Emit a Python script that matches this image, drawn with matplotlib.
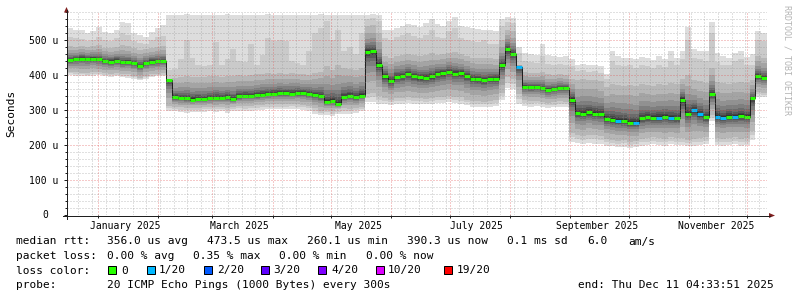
import datetime as dt
import numpy as np
import matplotlib
matplotlib.use("Agg")
import matplotlib.pyplot as plt
import matplotlib.dates as mdates
from matplotlib.patches import Rectangle, Polygon
from matplotlib.lines import Line2D
from matplotlib.transforms import Affine2D, blended_transform_factory

plt.rcParams['font.family'] = ['DejaVu Sans Mono']

# ---------------- data (microseconds, one value per 3-day step) ----------------
start = dt.datetime(2024, 12, 16, 4, 33, 51)
step_days = 3

med = [443, 446, 447, 446, 447, 445, 440, 438, 441, 436, 437, 434, 425, 434, 438, 439, 440,
       387,
       336, 334, 333, 330, 332, 331, 333, 335, 334, 337, 331, 339, 341, 340, 342, 344, 346,
       347, 348, 348, 347, 349, 348, 346, 342, 340, 322, 326, 318, 336, 340, 336, 341,
       467, 468, 430,
       396, 382, 395, 397, 403, 397, 393, 392, 396, 403, 405, 410, 404, 405, 398, 389, 388,
       385, 389, 390, 428,
       474, 460, 424,
       366, 365, 366, 362, 357, 360, 363, 362, 330,
       291, 290, 293, 289, 288, 274, 272, 270, 268, 264, 263, 276, 279, 277, 278, 280, 277, 276,
       330, 290, 300, 288, 279, 345, 281, 277, 281, 280, 283, 280, 333, 397, 392]

top = [533, 529, 529, 520, 525, 538, 522, 520, 530, 552, 548, 520, 515, 510, 524, 535, 543,
       571, 572, 572, 573, 572, 572, 571, 572, 572, 572, 573, 572, 572, 571, 572, 572, 572,
       573, 572, 572, 572, 571, 572, 572, 572, 572, 573, 572, 572, 572, 571, 572, 572, 572,
       572, 573, 572,
       530, 528, 535, 540, 545, 542, 538, 548, 560, 545, 540, 555, 565, 540, 538, 535, 532,
       530, 528, 525, 560,
       566, 563, 480,
       462, 460, 458, 490, 458, 455, 452, 455, 445,
       430, 432, 428, 430, 425, 402, 470, 455, 448, 450, 445, 452, 448, 442, 455, 445, 468, 450,
       468, 538, 475, 470, 468, 552, 462, 455, 450, 462, 470, 452, 460, 525, 520]

hi = [508, 505, 502, 498, 500, 510, 500, 498, 505, 520, 515, 498, 492, 490, 500, 508, 512,
      415, 418, 445, 500, 450, 430, 425, 428, 495, 430, 445, 475, 440, 438, 490, 430, 458,
      505, 498, 500, 496, 440, 435, 430, 470, 520, 535, 555, 500, 530, 470, 480, 460, 520,
      560, 562, 555,
      505, 500, 510, 515, 520, 512, 505, 515, 530, 510, 505, 525, 535, 505, 500, 498, 495,
      500, 490, 488, 540,
      552, 548, 462,
      440, 438, 435, 455, 432, 430, 432, 430, 425,
      412, 415, 410, 412, 405, 388, 440, 430, 425, 428, 420, 430, 425, 420, 430, 422, 440, 428,
      445, 500, 448, 445, 440, 520, 438, 430, 428, 440, 445, 430, 430, 500, 498]

up = [482, 480, 484, 480, 482, 485, 478, 478, 480, 485, 482, 476, 472, 475, 478, 480, 482,
      390, 392, 395, 398, 395, 393, 395, 396, 398, 395, 396, 398, 400, 398, 400, 402, 403,
      405, 404, 405, 403, 405, 404, 402, 400, 405, 410, 425, 415, 430, 420, 418, 415, 420,
      540, 542, 520,
      455, 450, 455, 458, 460, 458, 455, 458, 462, 458, 460, 462, 465, 460, 455, 450, 448,
      450, 448, 445, 500,
      530, 525, 430,
      408, 405, 405, 410, 402, 400, 402, 400, 390,
      385, 388, 385, 386, 382, 365, 375, 372, 370, 372, 368, 375, 372, 370, 374, 372, 378, 374,
      390, 400, 385, 382, 378, 420, 380, 376, 375, 378, 380, 376, 385, 455, 450]

dn = [410, 408, 407, 406, 408, 408, 405, 404, 405, 402, 402, 398, 392, 398, 402, 404, 405,
      312, 310, 308, 306, 307, 306, 308, 309, 308, 310, 306, 310, 312, 311, 312, 314, 315,
      316, 316, 317, 316, 318, 317, 315, 312, 305, 298, 300, 296, 302, 305, 304, 306, 310,
      345, 348, 340,
      335, 330, 333, 335, 336, 334, 333, 332, 334, 336, 338, 340, 338, 336, 330, 326, 325,
      324, 326, 328, 350,
      395, 390, 345,
      328, 326, 327, 324, 320, 322, 325, 324, 235,
      228, 226, 230, 228, 225, 218, 215, 212, 214, 210, 212, 218, 220, 222, 220, 218, 222, 220,
      220, 215, 218, 220, 222, 285, 220, 218, 220, 222, 218, 220, 240, 352, 350]

bot = [400, 398, 397, 396, 398, 399, 396, 395, 396, 393, 392, 388, 385, 388, 394, 396, 397,
       298, 296, 294, 292, 294, 293, 295, 296, 295, 296, 292, 297, 298, 297, 298, 300, 301,
       302, 302, 303, 302, 303, 302, 300, 297, 290, 285, 287, 284, 288, 290, 290, 292, 296,
       322, 324, 318,
       318, 314, 316, 318, 320, 318, 317, 316, 318, 320, 320, 322, 320, 318, 314, 310, 309,
       308, 310, 312, 330,
       362, 360, 318,
       312, 310, 311, 308, 306, 308, 310, 309, 210,
       205, 204, 206, 204, 202, 198, 196, 194, 195, 192, 194, 198, 200, 202, 200, 198, 202, 200,
       200, 196, 198, 200, 202, 268, 200, 198, 200, 202, 198, 200, 215, 338, 336]

loss = [0] * 120
for i_ in [77, 94, 97, 101, 103, 107, 108, 111, 112, 114]:
    loss[i_] = 1

y_ticks = [0, 100, 200, 300, 400, 500]
y_labels = ["0", "100 u", "200 u", "300 u", "400 u", "500 u"]
x_label_names = ["January 2025", "March 2025", "May 2025", "July 2025",
                 "September 2025", "November 2025"]
x_label_dates = [dt.datetime(2025, m, 15) for m in (1, 3, 5, 7, 9, 11)]

loss_keys = ["0", "1/20", "2/20", "3/20", "4/20", "10/20", "19/20"]
loss_cols = ['#26ff00', '#00b8ff', '#0059ff', '#5e00ff', '#7e00ff', '#dd00ff', '#ff0000']

# ---------------- figure ----------------
W, H, DPI = 797, 297, 100
fig = plt.figure(figsize=(W / DPI, H / DPI), dpi=DPI)
fig.patch.set_facecolor('white')
L, R, T, B = 67, 767, 12, 215
ax = fig.add_axes([L / W, 1 - B / H, (R - L) / W, (B - T) / H])
for s in ax.spines.values():
    s.set_visible(False)
ax.set_facecolor('white')

N = len(med)
edges = [start + dt.timedelta(days=step_days * i) for i in range(N + 1)]
xe = mdates.date2num(edges)
ax.set_xlim(xe[0], xe[-1])
ax.set_ylim(0, 580)

def ext(a):
    a = np.asarray(a, dtype=float)
    return np.append(a, a[-1])

med_a = np.asarray(med, float)
top_a, hi_a, up_a = map(lambda v: np.asarray(v, float), (top, hi, up))
dn_a, bot_a = np.asarray(dn, float), np.asarray(bot, float)

# smoke: 10 bands, colour per smokeping formula
grays = [int(190 / 10 * (10 - i)) + 50 for i in range(1, 11)]
fr = [1.0, 0.72, 0.5, 0.35, 0.24, 0.16, 0.1, 0.05]
bands = [(bot_a, top_a), (bot_a + (dn_a - bot_a) * 0.5, hi_a)]
for f in fr:
    bands.append((med_a - (med_a - dn_a) * f, med_a + (up_a - med_a) * f))
for k, (lo_, hi_) in enumerate(bands):
    g = grays[k]
    ax.fill_between(xe, ext(lo_), ext(hi_), step='post',
                    color='#%02x%02x%02x' % (g, g, g), lw=0, zorder=2 + k,
                    antialiased=False)

# median line
ax.step(xe, ext(med_a), where='post', color='#202020', lw=0.72, zorder=30)
def lcol(n):
    if n == 0: return loss_cols[0]
    if n == 1: return loss_cols[1]
    if n == 2: return loss_cols[2]
    if n == 3: return loss_cols[3]
    if n < 10: return loss_cols[4]
    if n < 19: return loss_cols[5]
    return loss_cols[6]
ax.hlines(med_a, xe[:-1], xe[1:], colors=[lcol(n) for n in loss], lw=2.2,
          zorder=31, capstyle='butt')

# grid (drawn on top, like rrdtool)
minor_c = (0.56, 0.56, 0.56, 0.55)
major_c = (0.87, 0.31, 0.31, 0.6)
dash = (0, (1, 2))
for y in range(20, 581, 20):
    if y % 100 == 0:
        ax.axhline(y, color=major_c, lw=0.72, ls=dash, zorder=40)
    else:
        ax.axhline(y, color=minor_c, lw=0.72, ls=dash, zorder=40)
month_starts = [dt.datetime(2025, m, 1) for m in range(1, 13)]
d = dt.datetime(2024, 12, 22)
while d < edges[-1]:
    if d not in month_starts:
        ax.axvline(mdates.date2num(d), color=minor_c, lw=0.72, ls=dash, zorder=40)
    d += dt.timedelta(days=7)
for m in month_starts:
    ax.axvline(mdates.date2num(m), color=major_c, lw=0.72, ls=dash, zorder=40)

# ticks
ax.set_yticks(y_ticks)
ax.set_yticklabels([""] + y_labels[1:])
ax.set_yticks(list(range(20, 581, 20)), minor=True)
ax.tick_params(axis='y', which='major', direction='out', length=2.2, width=0.72,
               color='#1f1f1f', labelsize=7, pad=4.2)
ax.tick_params(axis='y', which='minor', direction='out', length=1.5, width=0.72,
               color='#1f1f1f')
tr0 = blended_transform_factory(fig.transFigure, ax.transData)
fig.text(47.8 / W, 0, y_labels[0], transform=tr0, ha='right', va='center', size=7)

ax.set_xticks(mdates.date2num(x_label_dates))
ax.set_xticklabels(x_label_names)
ax.set_xticks(mdates.date2num(month_starts), minor=True)
ax.tick_params(axis='x', which='major', length=0, labelsize=7, pad=4.0)
ax.tick_params(axis='x', which='minor', direction='out', length=2.2, width=0.72,
               color='#1f1f1f')

# axes lines and arrows (pixel coordinates, origin top-left)
pxT = Affine2D().scale(1, -1).translate(0, H)
axis_c = '#1f1f1f'
arrow_c = '#7f1f1f'
fig.add_artist(Line2D([63, 770], [215.5, 215.5], color=axis_c, lw=0.72, transform=pxT))
fig.add_artist(Line2D([66.5, 66.5], [219, 10], color=axis_c, lw=0.72, transform=pxT))
fig.add_artist(Polygon([[64, 12.5], [69, 12.5], [66.5, 7]], closed=True, color=arrow_c,
                       transform=pxT, lw=0))
fig.add_artist(Polygon([[769, 213], [769, 218], [775, 215.5]], closed=True, color=arrow_c,
                       transform=pxT, lw=0))

# labels
fig.text(11 / W, 1 - 113 / H, "Seconds", rotation=90, ha='center', va='center', size=8)
fig.text(787 / W, 1 - 60 / H, "RRDTOOL / TOBI OETIKER", rotation=270, ha='center',
         va='center', size=6, color='#b4b4b4')

def ftext(x, yb, s, **kw):
    fig.text(x / W, 1 - yb / H, s, ha='left', va='baseline', size=8, **kw)

y1, y2, y3, y4 = 244.5, 259, 273.5, 288
ftext(16, y1, "median rtt:")
ftext(107, y1, "356.0 us avg")
ftext(207, y1, "473.5 us max")
ftext(307, y1, "260.1 us min")
ftext(407, y1, "390.3 us now")
ftext(507, y1, "0.1 ms sd")
ftext(587, y1, "6.0")
ftext(628, y1, "am/s")

ftext(16, y2, "packet loss:")
ftext(107, y2, "0.00 % avg")
ftext(193, y2, "0.35 % max")
ftext(279, y2, "0.00 % min")
ftext(366, y2, "0.00 % now")

ftext(16, y3, "loss color:")
box_x = [107, 146, 203, 260, 317, 375, 443]
lab_x = [121, 159, 217, 273, 331, 388, 457]
for bx, lx, key, c in zip(box_x, lab_x, loss_keys, loss_cols):
    fig.add_artist(Rectangle((bx + 0.5, 265.5), 8, 8, facecolor=c, edgecolor='black',
                             lw=0.72, transform=pxT))
    ftext(lx, y3, key)

ftext(16, y4, "probe:")
ftext(107, y4, "20 ICMP Echo Pings (1000 Bytes) every 300s")
ftext(578, y4, "end: Thu Dec 11 04:33:51 2025")

fig.savefig("out.png", dpi=DPI, facecolor='white')
